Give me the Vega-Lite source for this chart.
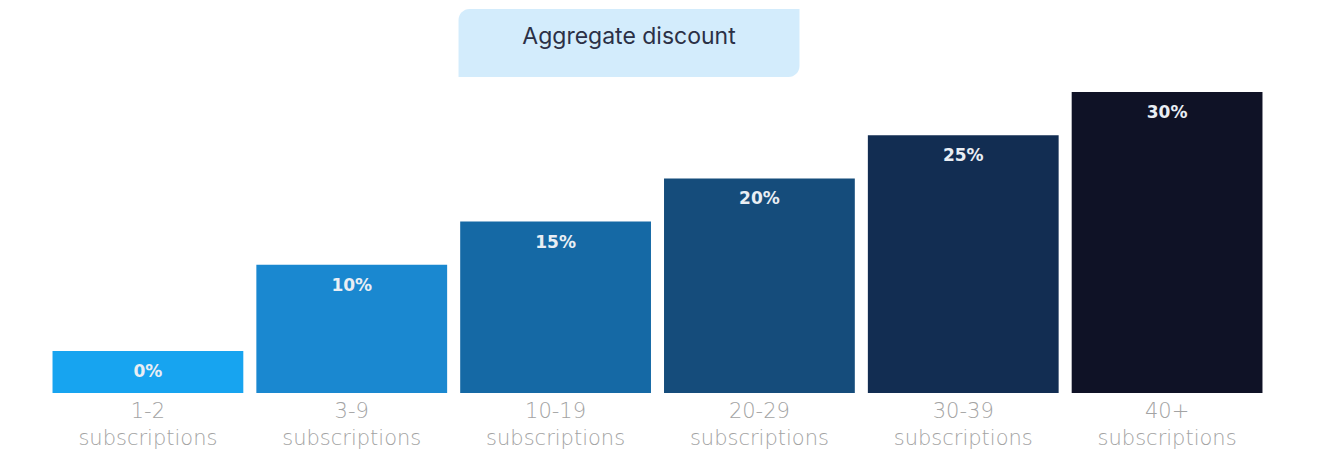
{
  "$schema": "https://vega.github.io/schema/vega-lite/v6.json",
  "width": 1223,
  "height": 384,
  "autosize": {"type": "none"},
  "padding": {"left": 46, "top": 9, "right": 63, "bottom": 57},
  "background": "white",
  "config": {"view": {"stroke": null}},
  "datasets": {
    "tiers": [
      {"tier": "1-2 subscriptions", "discount": 0, "label": "0%"},
      {"tier": "3-9 subscriptions", "discount": 10, "label": "10%"},
      {"tier": "10-19 subscriptions", "discount": 15, "label": "15%"},
      {"tier": "20-29 subscriptions", "discount": 20, "label": "20%"},
      {"tier": "30-39 subscriptions", "discount": 25, "label": "25%"},
      {"tier": "40+ subscriptions", "discount": 30, "label": "30%"}
    ],
    "heading": [{"title": "Aggregate discount"}]
  },
  "layer": [
    {
      "data": {"name": "heading"},
      "layer": [
        {
          "mark": {"type": "rect", "color": "#d3ecfc", "cornerRadiusTopLeft": 11, "cornerRadiusBottomRight": 11, "cornerRadiusTopRight": 0, "cornerRadiusBottomLeft": 0},
          "encoding": {
            "x": {"datum": 0.3373, "type": "quantitative", "scale": {"domain": [0, 1], "nice": false, "zero": false}, "axis": null},
            "x2": {"datum": 0.6161},
            "y": {"datum": 39.63, "type": "quantitative"},
            "y2": {"datum": 31.75}
          }
        },
        {
          "mark": {"type": "text", "font": "Inter", "fontSize": 23, "color": "#2b3046", "baseline": "alphabetic", "align": "center"},
          "encoding": {
            "x": {"datum": 0.4767, "type": "quantitative"},
            "y": {"datum": 35.54, "type": "quantitative"},
            "text": {"field": "title"}
          }
        }
      ]
    },
    {
      "data": {"name": "tiers"},
      "layer": [
        {
          "mark": {"type": "bar"},
          "encoding": {
            "x": {
              "field": "tier", "type": "nominal", "sort": null,
              "scale": {"paddingInner": 0.064, "paddingOuter": 0.032},
              "axis": {
                "orient": "bottom",
                "title": null, "domain": false, "ticks": false, "labelAngle": 0,
                "labelFont": "DejaVu Sans", "labelFontWeight": 200, "labelFontSize": 21,
                "labelColor": "#a3a3a3", "labelLineHeight": 27, "labelPadding": 7,
                "labelExpr": "split(datum.label, ' ')"
              }
            },
            "y": {
              "field": "discount", "type": "quantitative",
              "scale": {"domain": [-4.87, 39.63], "nice": false, "zero": false},
              "axis": null
            },
            "y2": {"datum": -4.87},
            "color": {
              "field": "tier", "type": "nominal", "sort": null, "legend": null,
              "scale": {"range": ["#17a4f0", "#1a88d0", "#1569a5", "#154c7b", "#122d52", "#0f1226"]}
            }
          }
        },
        {
          "mark": {"type": "text", "font": "DejaVu Sans", "fontWeight": "bold", "fontSize": 17, "color": "#e9eef4", "baseline": "middle", "dy": 21},
          "encoding": {
            "x": {"field": "tier", "type": "nominal", "sort": null},
            "y": {"field": "discount", "type": "quantitative"},
            "text": {"field": "label"}
          }
        }
      ]
    }
  ],
  "resolve": {"scale": {"x": "independent"}}
}
